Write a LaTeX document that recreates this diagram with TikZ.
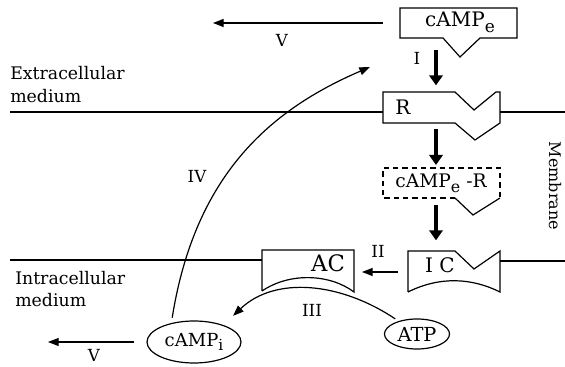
\documentclass[tikz,border=0pt]{standalone}
\usepackage{fontspec}
\usepackage{graphicx}
\setmainfont{DejaVu Serif}
\usetikzlibrary{arrows.meta,shapes.geometric}

\newcommand{\fsz}[1]{\fontsize{#1}{#1}\selectfont}
\newcommand{\lsub}[1]{\raisebox{-0.5ex}{\scalebox{0.85}{#1}}}

\begin{document}
\begin{tikzpicture}[x=0.75pt, y=-0.75pt,
  every node/.style={font=\fsz{13}, inner sep=0pt},
  memb/.style={line width=0.8pt},
  boxln/.style={line width=0.9pt},
  numlbl/.style={anchor=base, font=\fsz{12.5}},
  bigarr/.style={line width=2.5pt, -{Triangle[length=7.5pt,width=10pt]}},
  thinarr/.style={line width=0.9pt, -{Triangle[length=8pt,width=6pt]}}]
  \useasboundingbox (0,0) rectangle (565,367);

  % membrane
  \draw[memb] (10,112) -- (383,112) (500,112) -- (565,112);
  \draw[memb] (10,260) -- (262,260) (500,261) -- (565,261);
  \node[font=\fsz{12}, rotate=-90] (membr) at (555,186) {Membrane};
  \node[anchor=base west] (extra) at (10,80) {Extracellular};
  \node[anchor=base west] (extra2) at (10,103) {medium};
  \node[anchor=base west] (intra) at (15,285) {Intracellular};
  \node[anchor=base west] (intra2) at (15,307) {medium};

  % cAMP_e
  \draw[boxln] (400,8) -- (517,8) -- (517,38) -- (480,38) -- (460,57) -- (443,38) -- (400,38) -- cycle;
  \node[anchor=base, font=\fsz{15}] (campe) at (460,27) {cAMP\lsub{e}};
  \coordinate (campe-s) at (436,38);
  \coordinate (campe-w) at (400,23);

  % R
  \draw[boxln] (383,92) -- (455,92) -- (474,110) -- (496,92) -- (500,92) -- (500,123)
    -- (475,140) -- (455,123) -- (383,123) -- cycle;
  \node[anchor=base, font=\fsz{15}] (r) at (403,115) {R};
  \coordinate (r-n) at (436,92);
  \coordinate (r-s) at (436,123);

  % cAMP_e - R
  \draw[boxln, dash pattern=on 4pt off 3pt] (455,198) -- (383,198) -- (383,168) -- (500,168) -- (500,198);
  \draw[boxln] (500,198) -- (473,215) -- (455,198);
  \node[anchor=base, font=\fsz{14}] (cr) at (441,188) {cAMP\lsub{e} -R};
  \coordinate (cr-n) at (436,168);
  \coordinate (cr-s) at (436,198);

  % IC
  \draw[boxln] (408,292) -- (408,251) -- (455,251) -- (474,269) -- (500,251) -- (500,292)
    .. controls (472,278) and (440,276) .. (408,292);
  \node[anchor=base, font=\fsz{15}] (ic) at (440,273) {I C};
  \coordinate (ic-n) at (436,251);
  \coordinate (ic-w) at (408,272);

  % AC
  \draw[boxln] (262,291) -- (262,250) -- (354,250) -- (354,292)
    .. controls (330,274) and (290,272) .. (262,291);
  \node[anchor=base, font=\fsz{17}] (ac) at (328,272) {AC};
  \coordinate (ac-e) at (354,272);

  % ATP, cAMP_i
  \node[draw, boxln, ellipse, minimum width=48.75pt, minimum height=22.5pt, font=\fsz{14.5}] (atp) at (417,334) {ATP};
  \node[draw, boxln, ellipse, minimum width=70.5pt, minimum height=31.5pt, font=\fsz{13.5}] (campi) at (194,342) {cAMP\lsub{i}};

  % steps
  \draw[bigarr, shorten <=9pt, shorten >=5pt] (campe-s) -- (r-n);
  \draw[bigarr, shorten <=4.5pt, shorten >=2.25pt] (r-s) -- (cr-n);
  \draw[bigarr, shorten <=5pt, shorten >=8pt] (cr-s) -- (ic-n);
  \draw[thinarr, shorten <=7.5pt, shorten >=6pt] (ic-w) -- (ac-e);
  \draw[thinarr, shorten <=3pt, shorten >=10pt] (atp.145) .. controls (340,282) and (275,276) .. (campi.30);
  \coordinate (iv-end) at (370,67);
  \draw[thinarr, shorten <=4pt] (campi.140) .. controls (195,175) and (270,110) .. (iv-end);
  \coordinate (v-top) at (213,23);
  \draw[thinarr, shorten <=12.75pt] (campe-w) -- (v-top);
  \coordinate (v-bot) at (48,342);
  \draw[thinarr, shorten <=9pt] (campi.west) -- (v-bot);

  % labels
  \node[numlbl] (l1) at (417,65) {I};
  \node[numlbl] (l2) at (378,258) {II};
  \node[numlbl] (l3) at (312,317) {III};
  \node[numlbl] (l4) at (197,183) {IV};
  \node[numlbl] (l5) at (282,47) {V};
  \node[numlbl] (l5b) at (94,362) {V};
\end{tikzpicture}
\end{document}
